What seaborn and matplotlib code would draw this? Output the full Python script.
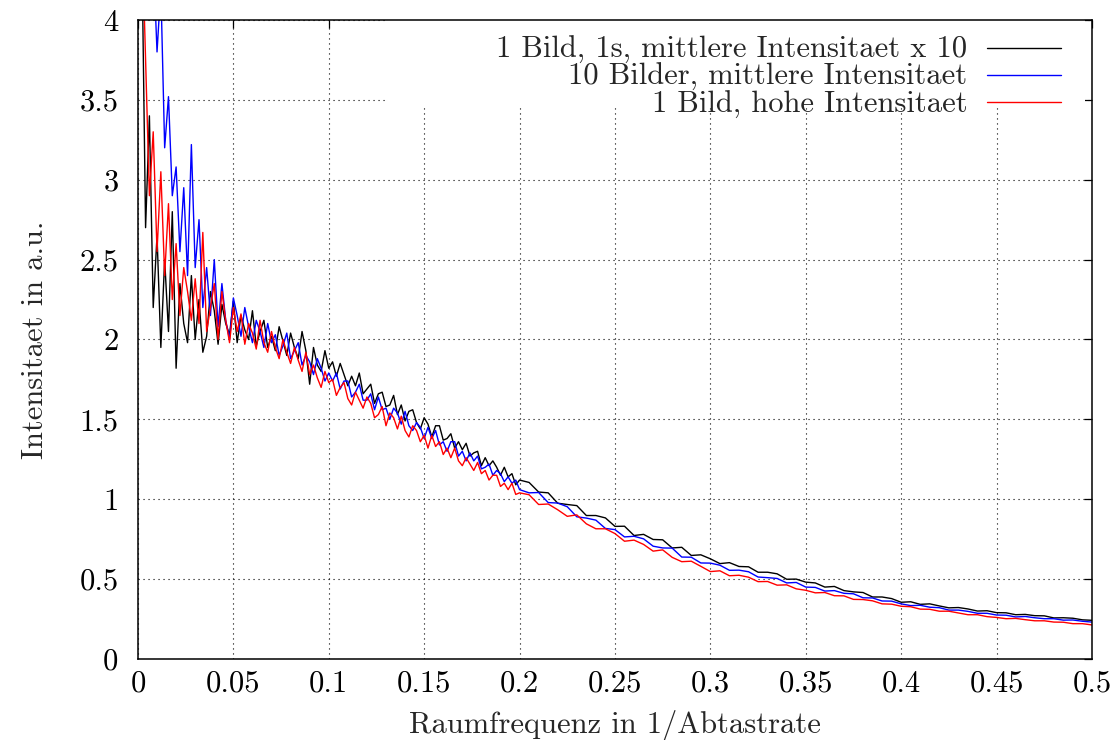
import numpy as np
import pandas as pd
import matplotlib
matplotlib.use("Agg")
import matplotlib.pyplot as plt
import seaborn as sns
from matplotlib.patches import Rectangle
from matplotlib.ticker import FuncFormatter, MultipleLocator

# Abtastgitter: fein bis 0.2, danach gröber
freq_fine = np.round(np.arange(1, 101) * 0.002, 4)
freq_coarse = np.round(0.2 + np.arange(1, 61) * 0.005, 4)
freq = np.concatenate([freq_fine, freq_coarse])

labels = ["1 Bild, 1s, mittlere Intensitaet x 10",
          "10 Bilder, mittlere Intensitaet",
          "1 Bild, hohe Intensitaet"]
colors = ["black", "blue", "red"]

black_vals = [
    4.5, 2.7, 3.4, 2.2, 2.65, 1.95, 2.5, 2.05, 2.8, 1.82,
    2.35, 2.1, 1.98, 2.4, 2.0, 2.25, 1.92, 2.02, 2.3, 2.18,
    1.97, 2.22, 2.1, 2.03, 2.24, 1.98, 2.15, 2.06, 2.0, 2.18,
    1.96, 2.05, 2.12, 1.95, 2.02, 1.93, 2.08, 1.99, 1.9, 2.04,
    1.95, 1.88, 2.05, 1.93, 1.72, 1.95, 1.84, 1.8, 1.93, 1.82,
    1.86, 1.77, 1.85, 1.78, 1.71, 1.77, 1.71, 1.79, 1.66, 1.69,
    1.72, 1.6, 1.66, 1.67, 1.58, 1.59, 1.65, 1.53, 1.59, 1.49,
    1.55, 1.56, 1.48, 1.44, 1.51, 1.47, 1.39, 1.46, 1.46, 1.37,
    1.38, 1.41, 1.32, 1.36, 1.31, 1.35, 1.27, 1.29, 1.3, 1.21,
    1.26, 1.21, 1.24, 1.2, 1.15, 1.2, 1.14, 1.16, 1.09, 1.12,
    1.105, 1.045, 1.04, 0.975, 0.967, 0.96, 0.898, 0.898, 0.883, 0.83,
    0.831, 0.773, 0.78, 0.748, 0.746, 0.695, 0.699, 0.648, 0.652, 0.627,
    0.597, 0.603, 0.579, 0.577, 0.543, 0.543, 0.533, 0.499, 0.50, 0.481,
    0.476, 0.45, 0.454, 0.428, 0.42, 0.416, 0.388, 0.388, 0.378, 0.355,
    0.358, 0.342, 0.345, 0.332, 0.32, 0.322, 0.313, 0.30, 0.302, 0.29,
    0.289, 0.277, 0.279, 0.271, 0.27, 0.257, 0.258, 0.255, 0.245, 0.242,
]

blue_vals = [
    5.5, 5.0, 4.6, 4.4, 3.8, 4.2, 3.2, 3.52, 2.9, 3.08,
    2.55, 2.95, 2.4, 3.22, 2.45, 2.75, 2.2, 2.45, 2.15, 2.5,
    2.08, 2.35, 2.12, 2.0, 2.26, 2.15, 2.02, 2.2, 2.08, 1.98,
    2.12, 2.05, 1.95, 2.1, 1.98, 2.03, 1.9, 1.96, 2.04, 1.88,
    1.93, 1.98, 1.84, 1.9, 1.86, 1.78, 1.88, 1.82, 1.74, 1.79,
    1.74, 1.79, 1.69, 1.74, 1.74, 1.64, 1.67, 1.72, 1.62, 1.62,
    1.66, 1.56, 1.64, 1.56, 1.57, 1.5, 1.57, 1.54, 1.47, 1.55,
    1.46, 1.43, 1.48, 1.45, 1.38, 1.45, 1.38, 1.43, 1.34, 1.36,
    1.3, 1.36, 1.36, 1.27, 1.3, 1.24, 1.29, 1.24, 1.27, 1.19,
    1.2, 1.22, 1.15, 1.18, 1.16, 1.11, 1.14, 1.1, 1.12, 1.06,
    1.04, 1.042, 0.979, 0.976, 0.953, 0.89, 0.882, 0.869, 0.817, 0.81,
    0.764, 0.768, 0.752, 0.706, 0.695, 0.694, 0.638, 0.637, 0.601, 0.60,
    0.587, 0.555, 0.556, 0.546, 0.513, 0.509, 0.504, 0.476, 0.479, 0.45,
    0.448, 0.425, 0.428, 0.411, 0.408, 0.383, 0.382, 0.363, 0.362, 0.345,
    0.334, 0.336, 0.324, 0.321, 0.306, 0.306, 0.298, 0.286, 0.286, 0.275,
    0.274, 0.263, 0.266, 0.258, 0.252, 0.252, 0.243, 0.244, 0.236, 0.231,
]

red_vals = [
    4.6, 3.75, 2.9, 3.3, 2.55, 3.05, 2.4, 2.85, 2.25, 2.6,
    2.15, 2.45, 2.3, 2.12, 2.38, 2.1, 2.67, 2.05, 2.2, 2.35,
    2.0, 2.3, 2.12, 1.98, 2.2, 2.05, 2.16, 1.97, 2.1, 2.04,
    1.94, 2.12, 1.98, 1.92, 2.05, 1.95, 1.88, 2.0, 1.92, 1.85,
    1.95, 1.87, 1.8, 1.92, 1.78, 1.84, 1.76, 1.7, 1.8, 1.73,
    1.75, 1.65, 1.7, 1.73, 1.63, 1.59, 1.67, 1.62, 1.57, 1.64,
    1.6, 1.51, 1.53, 1.58, 1.46, 1.54, 1.51, 1.44, 1.52, 1.43,
    1.39, 1.46, 1.43, 1.36, 1.4, 1.32, 1.4, 1.33, 1.36, 1.28,
    1.32, 1.26, 1.32, 1.24, 1.21, 1.26, 1.22, 1.18, 1.23, 1.16,
    1.18, 1.12, 1.15, 1.15, 1.08, 1.1, 1.06, 1.1, 1.03, 1.04,
    1.028, 0.967, 0.97, 0.934, 0.893, 0.902, 0.846, 0.815, 0.815, 0.785,
    0.737, 0.744, 0.717, 0.675, 0.683, 0.636, 0.609, 0.612, 0.58, 0.547,
    0.552, 0.521, 0.524, 0.512, 0.484, 0.485, 0.462, 0.464, 0.439, 0.43,
    0.414, 0.416, 0.396, 0.395, 0.373, 0.372, 0.364, 0.345, 0.343, 0.33,
    0.327, 0.312, 0.311, 0.299, 0.299, 0.288, 0.277, 0.277, 0.265, 0.26,
    0.252, 0.254, 0.246, 0.239, 0.239, 0.231, 0.23, 0.221, 0.221, 0.213,
]

df = pd.concat([
    pd.DataFrame({"f": freq, "I": vals, "serie": lab})
    for lab, vals in zip(labels, [black_vals, blue_vals, red_vals])
])

sns.set_theme(style="white")
plt.rcParams["font.family"] = ["cmr10", "DejaVu Serif"]
plt.rcParams["mathtext.fontset"] = "cm"
plt.rcParams["axes.unicode_minus"] = False

fig, ax = plt.subplots(figsize=(11.17, 7.40), dpi=100)
fig.subplots_adjust(left=0.1235, right=0.9776, bottom=0.1095, top=0.973)

sns.lineplot(data=df, x="f", y="I", hue="serie", hue_order=labels,
             palette=colors, estimator=None, sort=False, linewidth=1.0, ax=ax)

ax.set_xlim(0, 0.5)
ax.set_ylim(0, 4)
ax.xaxis.set_major_locator(MultipleLocator(0.05))
ax.yaxis.set_major_locator(MultipleLocator(0.5))
fmt = FuncFormatter(lambda v, p: "%g" % round(v, 4))
ax.xaxis.set_major_formatter(fmt)
ax.yaxis.set_major_formatter(fmt)
ax.tick_params(direction="in", top=True, right=True, length=6, width=0.9,
               labelsize=22, colors="black")
ax.tick_params(axis="x", pad=8)
ax.tick_params(axis="y", pad=14)
ax.grid(True, color="black", linestyle=(0, (1, 3.5)), linewidth=0.8)
for s in ax.spines.values():
    s.set_color("black")
    s.set_linewidth(1.1)

ax.set_xlabel("Raumfrequenz in 1/Abtastrate", fontsize=22, labelpad=9)
ax.set_ylabel("Intensitaet in a.u.", fontsize=22, labelpad=22)

# weisser Hintergrund der Legende (deckt das Gitter ab)
ax.add_patch(Rectangle((0.259, 0.862), 0.734, 0.138, transform=ax.transAxes,
                       facecolor="white", edgecolor="none", zorder=1))

leg = ax.legend(loc="upper right", bbox_to_anchor=(0.9895, 1.008),
                markerfirst=False, fontsize=22,
                frameon=False, handlelength=2.4, handletextpad=0.65,
                labelspacing=-0.03, borderpad=0.2, borderaxespad=0.5)
for t in leg.get_texts():
    t.set_ha("right")
leg._legend_box.align = "right"

fig.savefig("out.png", dpi=100)
